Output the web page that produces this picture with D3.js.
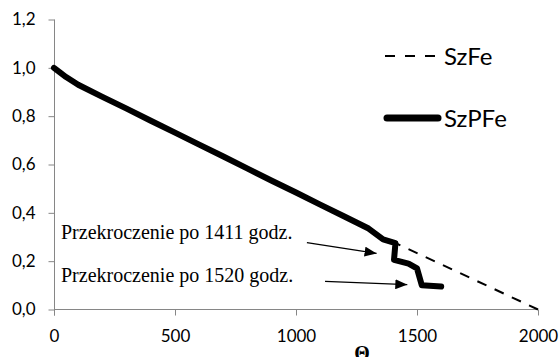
<!DOCTYPE html>
<html>
<head>
<meta charset="utf-8">
<script src="https://cdnjs.cloudflare.com/ajax/libs/d3/7.8.5/d3.min.js"></script>
<style>
  html, body { margin: 0; padding: 0; background: #fff; }
  svg { display: block; }
</style>
</head>
<body>
<svg id="chart" width="559" height="357"></svg>
<script>
// ---- Data ----
const hours = [0, 50, 100, 200, 300, 400, 500, 600, 700, 800, 900, 1000, 1100, 1200, 1300, 1360, 1411];
const sharedValues = [1.00, 0.962, 0.93, 0.880, 0.831, 0.781, 0.732, 0.682, 0.633, 0.583, 0.533, 0.484, 0.434, 0.385, 0.335, 0.29, 0.275];
// SzFe continues after 1411
const szFeTailHours = [2000];
const szFeTailValues = [0.0];
// SzPFe after exceedances
const szPFeTailHours = [1405, 1465, 1500, 1520, 1600];
const szPFeTailValues = [0.205, 0.19, 0.17, 0.10, 0.095];

const xTicks = [0, 500, 1000, 1500, 2000];
const yTicks = [0, 0.2, 0.4, 0.6, 0.8, 1.0, 1.2];
const seriesNames = ["SzFe", "SzPFe"];
const annotations = [
  { text: "Przekroczenie po 1411 godz.", fromX: 1045, fromY: 0.277, toX: 1333, toY: 0.232 },
  { text: "Przekroczenie po 1520 godz.", fromX: 1120, fromY: 0.116, toX: 1460, toY: 0.103 }
];
const xTitle = "Θ";

// ---- Build series ----
const szFe = hours.map((h, i) => [h, sharedValues[i]])
  .concat(szFeTailHours.map((h, i) => [h, szFeTailValues[i]]));
const szPFe = hours.map((h, i) => [h, sharedValues[i]])
  .concat(szPFeTailHours.map((h, i) => [h, szPFeTailValues[i]]));

const svg = d3.select("#chart");
const x = d3.scaleLinear().domain([0, 2000]).range([54, 538]);
const y = d3.scaleLinear().domain([0, 1.2]).range([309.5, 19.5]);

const axisColor = "#868686";
const tickFont = "Lato, 'Open Sans', sans-serif";

// Y axis
const yAxis = svg.append("g").attr("transform", "translate(54.5,0)")
  .call(d3.axisLeft(y).tickValues(yTicks).tickSize(6).tickPadding(13)
    .tickFormat(d => d3.format(".1f")(d).replace(".", ",")));
yAxis.select(".domain").attr("stroke", axisColor).attr("d", `M0,${y(1.2)}V${y(0) + 6}`);
yAxis.selectAll(".tick line").attr("stroke", axisColor);
yAxis.selectAll(".tick text").attr("fill", "#000").style("font-family", tickFont).style("font-size", "17px");

// X axis
const xAxis = svg.append("g").attr("transform", `translate(0,${y(0)})`)
  .call(d3.axisBottom(x).tickValues(xTicks).tickSize(6).tickPadding(14).tickFormat(d3.format("d")));
xAxis.select(".domain").attr("stroke", axisColor).attr("d", `M${x(0)},0H${x(2000)}`);
xAxis.selectAll(".tick line").attr("stroke", axisColor);
xAxis.selectAll(".tick text").attr("fill", "#000").style("font-family", tickFont).style("font-size", "17px");

// Lines
const line = d3.line().x(d => x(d[0])).y(d => y(d[1]));
svg.append("path").datum(szFe)
  .attr("d", line).attr("fill", "none").attr("stroke", "#000")
  .attr("stroke-width", 2).attr("stroke-dasharray", "10,9");
svg.append("path").datum(szPFe)
  .attr("d", line).attr("fill", "none").attr("stroke", "#000")
  .attr("stroke-width", 6).attr("stroke-linejoin", "round").attr("stroke-linecap", "round");

// Arrow marker
svg.append("defs").append("marker")
  .attr("id", "arrow").attr("viewBox", "0 0 12 10").attr("refX", 12).attr("refY", 5)
  .attr("markerWidth", 12).attr("markerHeight", 10).attr("markerUnits", "userSpaceOnUse")
  .attr("orient", "auto")
  .append("path").attr("d", "M0,0L12,5L0,10Z").attr("fill", "#000");

annotations.forEach(a => {
  svg.append("line")
    .attr("x1", x(a.fromX)).attr("y1", y(a.fromY))
    .attr("x2", x(a.toX)).attr("y2", y(a.toY))
    .attr("stroke", "#000").attr("stroke-width", 1.2)
    .attr("marker-end", "url(#arrow)");
});

// Annotation texts
const textY = [0.293, 0.113];
annotations.forEach((a, i) => {
  svg.append("text").attr("x", 61).attr("y", y(textY[i]))
    .style("font-family", "'Liberation Serif', 'Times New Roman', serif")
    .style("font-size", "20px").attr("fill", "#000").text(a.text);
});

// Legend
const legend = svg.append("g");
legend.append("line").attr("x1", 385).attr("x2", 435).attr("y1", 56).attr("y2", 56)
  .attr("stroke", "#000").attr("stroke-width", 2).attr("stroke-dasharray", "10,10");
legend.append("text").attr("x", 444).attr("y", 64.5).text(seriesNames[0])
  .style("font-family", tickFont).style("font-size", "24px");
legend.append("line").attr("x1", 387).attr("x2", 438).attr("y1", 118).attr("y2", 118)
  .attr("stroke", "#000").attr("stroke-width", 7).attr("stroke-linecap", "round");
legend.append("text").attr("x", 444).attr("y", 127).text(seriesNames[1])
  .style("font-family", tickFont).style("font-size", "24px");

// X title
svg.append("text").attr("x", 362).attr("y", 360).attr("text-anchor", "middle")
  .style("font-family", "'Liberation Serif', 'Times New Roman', serif")
  .style("font-size", "20px").style("font-weight", "bold").text(xTitle);
</script>
</body>
</html>
